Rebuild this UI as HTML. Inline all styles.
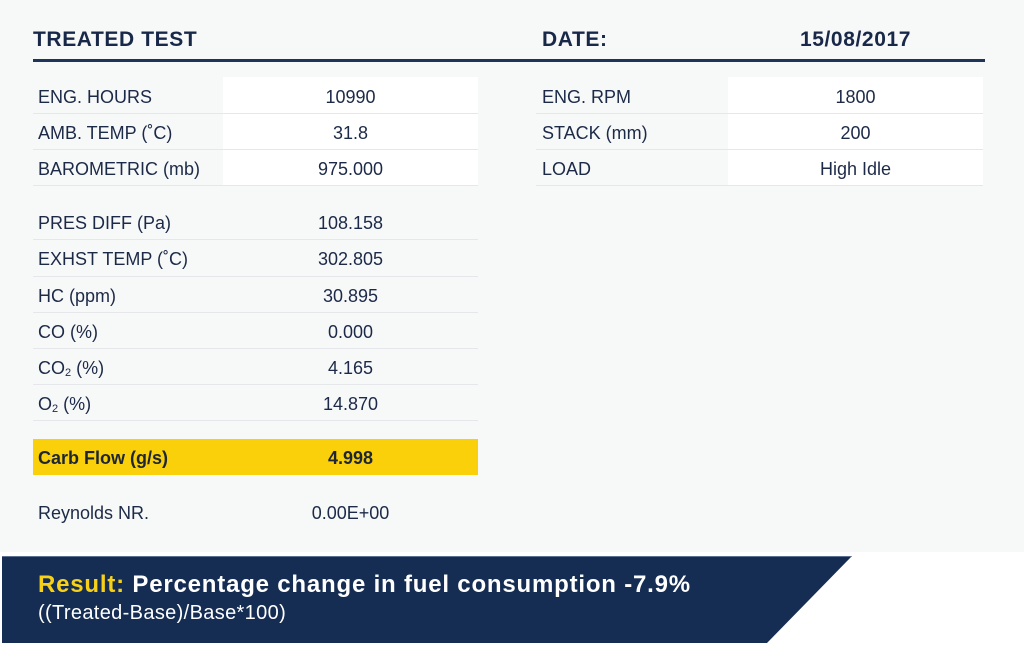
<!DOCTYPE html>
<html>
<head>
<meta charset="utf-8">
<style>
html,body{margin:0;padding:0;}
body{width:1024px;height:645px;position:relative;overflow:hidden;background:#ffffff;font-family:"Liberation Sans",Arial,sans-serif;color:#1c2a48;}
.bg{position:absolute;left:0;top:0;width:1024px;height:552px;background:#f7f8f8;}
.abs{position:absolute;}
.hdr{position:absolute;font-weight:bold;font-size:21px;line-height:21px;letter-spacing:0.6px;color:#182848;white-space:nowrap;}
.hline{position:absolute;left:33px;top:59px;width:952px;height:3px;background:#1e3459;}
.cell{position:absolute;background:#ffffff;}
.sep{position:absolute;height:1px;background:#e5e7ea;}
.lbl{position:absolute;font-size:18px;line-height:36px;white-space:nowrap;color:#1c2a48;}
.val{position:absolute;font-size:18px;line-height:36px;white-space:nowrap;text-align:center;color:#1c2a48;}
.sub{font-size:11px;position:relative;top:2px;}
.yellow{position:absolute;left:33px;top:439px;width:445px;height:36px;background:#f9d00a;}
.b{font-weight:bold;color:#1e2636;}
</style>
</head>
<body>
<div class="bg"></div>

<!-- headers -->
<div class="hdr" style="left:33px;top:29px;">TREATED TEST</div>
<div class="hdr" style="left:542px;top:29px;">DATE:</div>
<div class="hdr" style="left:728px;width:255px;text-align:center;top:29px;">15/08/2017</div>
<div class="hline"></div>

<!-- white cells -->
<div class="cell" style="left:223px;top:77px;width:255px;height:108px;"></div>
<div class="cell" style="left:728px;top:77px;width:255px;height:108px;"></div>

<!-- separators left top -->
<div class="sep" style="left:33px;top:113px;width:445px;"></div>
<div class="sep" style="left:33px;top:149px;width:445px;"></div>
<div class="sep" style="left:33px;top:185px;width:445px;"></div>
<!-- separators right -->
<div class="sep" style="left:536px;top:113px;width:447px;"></div>
<div class="sep" style="left:536px;top:149px;width:447px;"></div>
<div class="sep" style="left:536px;top:185px;width:447px;"></div>
<!-- separators left second section -->
<div class="sep" style="left:33px;top:239px;width:445px;"></div>
<div class="sep" style="left:33px;top:276px;width:445px;"></div>
<div class="sep" style="left:33px;top:312px;width:445px;"></div>
<div class="sep" style="left:33px;top:348px;width:445px;"></div>
<div class="sep" style="left:33px;top:384px;width:445px;"></div>
<div class="sep" style="left:33px;top:420px;width:445px;"></div>

<!-- left top rows -->
<div class="lbl" style="left:38px;top:79px;">ENG. HOURS</div>
<div class="val" style="left:223px;width:255px;top:79px;">10990</div>
<div class="lbl" style="left:38px;top:115px;">AMB. TEMP (˚C)</div>
<div class="val" style="left:223px;width:255px;top:115px;">31.8</div>
<div class="lbl" style="left:38px;top:151px;">BAROMETRIC (mb)</div>
<div class="val" style="left:223px;width:255px;top:151px;">975.000</div>

<!-- right rows -->
<div class="lbl" style="left:542px;top:79px;">ENG. RPM</div>
<div class="val" style="left:728px;width:255px;top:79px;">1800</div>
<div class="lbl" style="left:542px;top:115px;">STACK (mm)</div>
<div class="val" style="left:728px;width:255px;top:115px;">200</div>
<div class="lbl" style="left:542px;top:151px;">LOAD</div>
<div class="val" style="left:728px;width:255px;top:151px;">High Idle</div>

<!-- left second section -->
<div class="lbl" style="left:38px;top:205px;">PRES DIFF (Pa)</div>
<div class="val" style="left:223px;width:255px;top:205px;">108.158</div>
<div class="lbl" style="left:38px;top:241px;">EXHST TEMP (˚C)</div>
<div class="val" style="left:223px;width:255px;top:241px;">302.805</div>
<div class="lbl" style="left:38px;top:278px;">HC (ppm)</div>
<div class="val" style="left:223px;width:255px;top:278px;">30.895</div>
<div class="lbl" style="left:38px;top:314px;">CO (%)</div>
<div class="val" style="left:223px;width:255px;top:314px;">0.000</div>
<div class="lbl" style="left:38px;top:350px;">CO<span class="sub">2</span> (%)</div>
<div class="val" style="left:223px;width:255px;top:350px;">4.165</div>
<div class="lbl" style="left:38px;top:386px;">O<span class="sub">2</span> (%)</div>
<div class="val" style="left:223px;width:255px;top:386px;">14.870</div>

<!-- carb flow -->
<div class="yellow"></div>
<div class="lbl b" style="left:38px;top:440px;">Carb Flow (g/s)</div>
<div class="val b" style="left:223px;width:255px;top:440px;">4.998</div>

<!-- reynolds -->
<div class="lbl" style="left:38px;top:495px;">Reynolds NR.</div>
<div class="val" style="left:223px;width:255px;top:495px;">0.00E+00</div>

<!-- banner -->
<svg class="abs" style="left:0;top:0;" width="1024" height="645" viewBox="0 0 1024 645">
  <polygon points="2,556 852,556 767,643 2,643" fill="#162d53"/>
  <line x1="2" y1="556.5" x2="851" y2="556.5" stroke="#5d6f8f" stroke-width="1"/>
</svg>
<div class="abs" style="left:38px;top:573px;font-size:24px;line-height:24px;font-weight:bold;letter-spacing:0.8px;white-space:nowrap;color:#ffffff;"><span style="color:#f7d117;">Result:</span> Percentage change in fuel consumption -7.9%</div>
<div class="abs" style="left:38px;top:603px;font-size:20px;line-height:20px;letter-spacing:0.35px;white-space:nowrap;color:#ffffff;">((Treated-Base)/Base*100)</div>
</body>
</html>
